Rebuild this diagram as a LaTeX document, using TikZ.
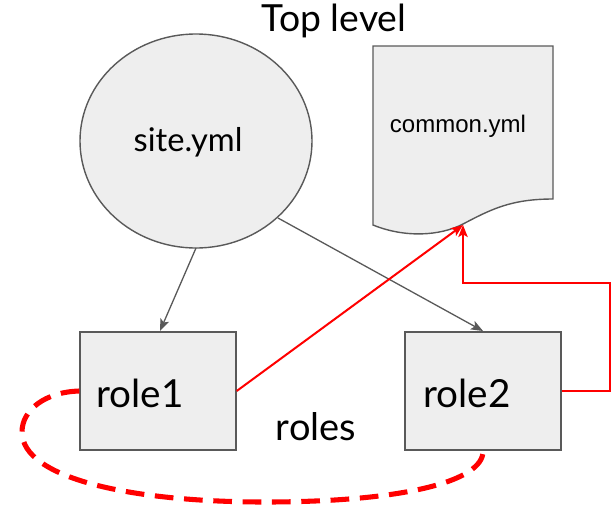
\documentclass[tikz,border=0pt]{standalone}
\usepackage{fontspec}
\setmainfont{Lato}
\newfontfamily\arialf{Liberation Sans}
\usetikzlibrary{arrows.meta,shapes.geometric}
\definecolor{boxfill}{HTML}{EEEEEE}
\definecolor{boxline}{HTML}{595959}
\definecolor{redl}{HTML}{FF0000}
\begin{document}
\begin{tikzpicture}[x=0.75pt,y=-0.75pt,
  shapestyle/.style={draw=boxline,fill=boxfill,line width=1.4pt*0.75},
  rolebox/.style={shapestyle,rectangle,minimum width=156*0.75pt,minimum height=118*0.75pt,inner sep=0pt},
  grayarrow/.style={color=boxline,line width=1.3pt*0.75,-{Stealth[length=9pt,width=7pt,inset=2pt]}},
  redarrow/.style={color=redl,line width=1.5pt,-{Stealth[length=9pt,width=7pt,inset=2pt]}},
  lbl/.style={inner sep=0pt,anchor=center}]
\useasboundingbox (0,0) rectangle (613,507);
% site.yml ellipse
\node[shapestyle,ellipse,minimum width=232*0.75pt,minimum height=214*0.75pt,inner sep=0pt] (site) at (196,141) {};
\node[lbl,font=\fontsize{24.5}{28}\selectfont] (sitet) at (188,142) {site.yml};
% document
\draw[shapestyle] (373,46) -- (553,46) -- (553,199)
  .. controls (510,199) and (490,210) .. (463,224)
  .. controls (440,236) and (405,238) .. (373,225) -- cycle;
\coordinate (doc) at (463,225);
\node[lbl,font=\arialf\fontsize{18}{21}\selectfont] (common) at (458,126) {common.yml};
% roles
\node[rolebox] (r1) at (158,391) {};
\node[rolebox] (r2) at (483,391) {};
\node[lbl,font=\fontsize{29}{34}\selectfont] (r1t) at (140,393) {role1};
\node[lbl,font=\fontsize{29}{34}\selectfont] (r2t) at (467,393) {role2};
\node[lbl,font=\fontsize{28.5}{33}\selectfont] (roles) at (316,427) {roles};
\node[lbl,font=\fontsize{28}{33}\selectfont] (top) at (334,21) {Top level};
% gray arrows
\draw[grayarrow] (196,248) -- (160,331);
\draw[grayarrow] (278,218) -- (483,331);
% red connectors
\coordinate (elbowA) at (610,391);
\coordinate (elbowB) at (610,283);
\coordinate (elbowC) at (463,283);
\draw[redarrow] (r1.east) -- (doc);
\draw[redarrow] (r2.east) -- (elbowA) -- (elbowB) -- (elbowC) -- (doc);
% dashed loop
\draw[redl,line width=3.8pt,dash pattern=on 14pt off 8pt,line cap=butt]
  (r1.west) .. controls (45,392) and (22,410) .. (22,432)
  .. controls (22,478) and (130,502) .. (265,502)
  .. controls (400,502) and (484,482) .. (r2.south);
\end{tikzpicture}
\end{document}
